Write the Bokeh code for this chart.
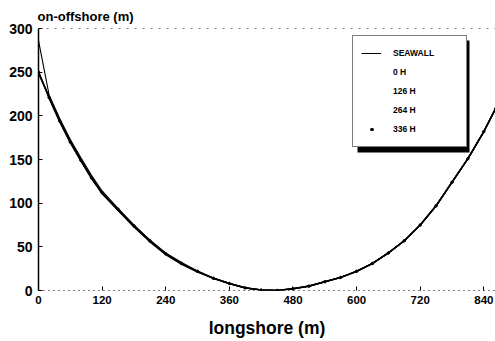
from bokeh.plotting import figure
from bokeh.models import (FixedTicker, Span, Legend, LegendItem, BoxAnnotation, Range1d)
from bokeh.embed import file_html
from bokeh.resources import INLINE

# ---- data ----
x = [0, 20, 40, 60, 80, 100, 120, 150, 180, 210, 240, 270, 300, 330, 360, 390,
     420, 450, 480, 510, 540, 570, 600, 630, 660, 690, 720, 750, 780, 810, 840, 862]
seawall = [286, 224, 197, 173, 152, 132, 114, 94, 75, 58, 43, 32, 22, 14, 8, 3,
           0.6, 0, 2, 5, 10, 15, 22, 31, 43, 57, 75, 97, 124, 151, 182, 208]
h0 = [249, 222, 195, 171, 150, 130, 112, 93, 74, 57, 42, 31, 22, 14, 8, 3,
      0.5, 0, 2, 5, 10, 15, 22, 31, 43, 57, 75, 97, 124, 151, 182, 208]
h126 = [250, 221, 194, 170, 149, 129, 111, 92, 73, 56, 42, 31, 22, 14, 8, 3,
        0.5, 0, 2, 5, 10, 15, 22, 31, 43, 57, 75, 97, 124, 151, 182, 208]
h264 = [251, 220, 193, 169, 148, 128, 111, 92, 73, 56, 41, 30, 21, 14, 8, 3,
        0.5, 0, 2, 5, 10, 15, 22, 31, 43, 57, 75, 97, 124, 151, 182, 208]
h336 = [250, 221, 194, 170, 149, 129, 112, 93, 74, 57, 42, 31, 22, 14, 8, 3,
        0.5, 0, 2, 5, 10, 15, 22, 31, 43, 57, 75, 97, 124, 151, 182, 208]
labels = ["SEAWALL", "0 H", "126 H", "264 H", "336 H"]
x_ticks = [0, 120, 240, 360, 480, 600, 720, 840]
y_ticks = [0, 50, 100, 150, 200, 250, 300]

FONT = "Liberation Sans"

p = figure(width=495, height=341, output_backend="svg", toolbar_location=None,
           x_range=Range1d(0, 862), y_range=Range1d(0, 300),
           min_border_left=38, min_border_right=0, min_border_bottom=51,
           min_border_top=28, title="on-offshore (m)")
p.outline_line_color = None
p.xgrid.grid_line_color = None
p.ygrid.grid_line_color = None
p.background_fill_color = "white"
p.border_fill_color = "white"

p.title.text_font = FONT
p.title.text_font_size = "13px"
p.title.text_font_style = "bold"
p.title.text_color = "black"
p.title.align = "left"
p.title.standoff = 10
p.title.offset = -1

p.xaxis.ticker = FixedTicker(ticks=x_ticks)
p.yaxis.ticker = FixedTicker(ticks=y_ticks)
for ax in (p.xaxis[0], p.yaxis[0]):
    ax.major_tick_in = 4
    ax.major_tick_out = 0
    ax.minor_tick_line_color = None
    ax.major_label_text_font = FONT
    ax.major_label_text_font_style = "bold"
    ax.major_label_text_color = "black"
    ax.major_tick_line_color = "black"
p.xaxis.major_label_text_font_size = "11.5px"
p.yaxis.major_label_text_font_size = "14px"
p.xaxis.major_label_standoff = 5
p.yaxis.major_label_standoff = 6
p.xaxis.axis_line_dash = "1 4"
p.xaxis.axis_line_color = "black"
p.yaxis.axis_line_width = 1.5
p.yaxis.axis_line_color = "black"
p.xaxis.axis_label = "longshore (m)"
p.xaxis.axis_label_text_font = FONT
p.xaxis.axis_label_text_font_size = "17.5px"
p.xaxis.axis_label_text_font_style = "bold"
p.xaxis.axis_label_text_color = "black"
p.xaxis.axis_label_standoff = 11

top = Span(location=300, dimension="width", line_color="black",
           line_dash="2 6", line_width=1)
p.add_layout(top)

r_sw = p.line(x, seawall, line_color="black", line_width=1.1)
r0 = p.line(x, h0, line_color="black", line_width=1.6)
r1 = p.line(x, h126, line_color="black", line_width=1.4)
r2 = p.line(x, h264, line_color="black", line_width=1.4)
r3 = p.scatter(x, h336, size=2.5, color="black")

# legend sample glyphs (the three middle entries show no visible sample)
d_sw = p.line([0], [0], line_color="black", line_width=1, visible=False)
blank = p.scatter([0], [0], size=0, alpha=0)
d_dot = p.line([0], [0], line_color="black", line_width=3, line_cap="round",
               line_dash="1 31", line_dash_offset=22, visible=False)

shadow = BoxAnnotation(left=319, right=431, top=250, bottom=138,
                       left_units="screen", right_units="screen",
                       top_units="screen", bottom_units="screen",
                       fill_color="black", fill_alpha=1, line_color=None)
p.add_layout(shadow)

legend = Legend(items=[LegendItem(label=labels[0], renderers=[d_sw]),
                       LegendItem(label=labels[1], renderers=[blank]),
                       LegendItem(label=labels[2], renderers=[blank]),
                       LegendItem(label=labels[3], renderers=[blank]),
                       LegendItem(label=labels[4], renderers=[d_dot])],
                location=(314, 143), padding=8, spacing=1, margin=0,
                label_height=18, glyph_height=18, glyph_width=20,
                label_standoff=12, label_width=65,
                label_text_font=FONT, label_text_font_size="8.5px",
                label_text_font_style="bold", label_text_color="black",
                border_line_color="black", border_line_width=1,
                background_fill_color="white", background_fill_alpha=1)
p.add_layout(legend, "center")

open("out.html", "w").write(file_html(p, INLINE))
